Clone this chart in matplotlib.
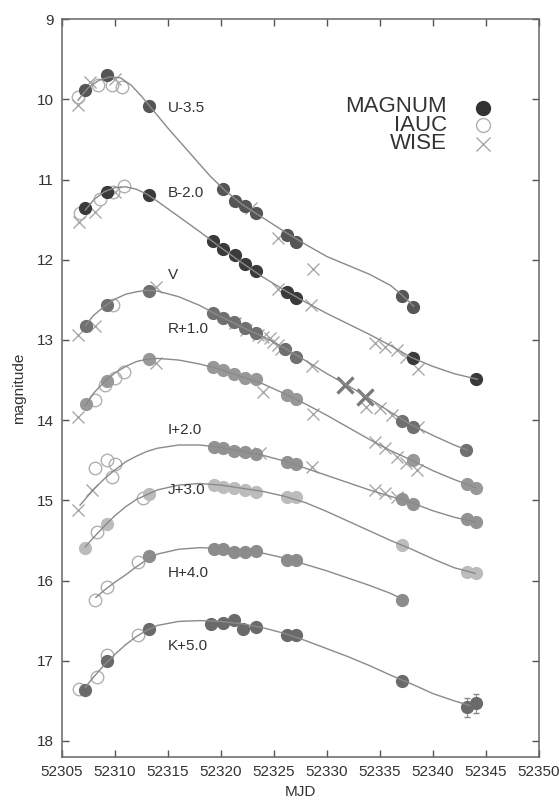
import matplotlib
matplotlib.use("Agg")
import matplotlib.pyplot as plt

plt.rcParams['font.family'] = ['Liberation Sans', 'DejaVu Sans']

# ---------------- data (MJD, magnitude) ----------------
# U-3.5
u_mag_x = [52307.2, 52309.2, 52313.2, 52320.2, 52321.3, 52322.3, 52323.3, 52326.2, 52327.1, 52337.1, 52338.1]
u_mag_y = [9.88, 9.70, 10.08, 11.12, 11.27, 11.33, 11.42, 11.69, 11.78, 12.45, 12.59]
u_iauc_x = [52306.5, 52308.4, 52309.7, 52310.7]
u_iauc_y = [9.97, 9.82, 9.82, 9.85]
u_wise_x = [52306.5, 52307.6, 52310.0, 52322.8, 52325.4, 52328.7]
u_wise_y = [10.07, 9.78, 9.75, 11.36, 11.73, 12.11]
u_fit_x = [52306.5, 52307.5, 52308.5, 52309.5, 52310.5, 52311.5, 52312.5, 52313.5, 52315, 52317, 52319, 52320.5,
           52322, 52324, 52326, 52328, 52330, 52332, 52334, 52336, 52337, 52338.2]
u_fit_y = [10.01, 9.85, 9.76, 9.72, 9.73, 9.82, 9.96, 10.12, 10.36, 10.66, 10.96, 11.15,
           11.31, 11.48, 11.65, 11.81, 11.96, 12.07, 12.18, 12.32, 12.43, 12.58]

# B-2.0
b_mag_x = [52307.2, 52309.2, 52313.2, 52319.2, 52320.2, 52321.3, 52322.3, 52323.3, 52326.2, 52327.1, 52338.1, 52344.1]
b_mag_y = [11.36, 11.15, 11.19, 11.76, 11.86, 11.94, 12.05, 12.14, 12.40, 12.48, 13.23, 13.49]
b_iauc_x = [52306.7, 52308.6, 52309.8, 52310.8]
b_iauc_y = [11.42, 11.24, 11.15, 11.08]
b_wise_x = [52306.6, 52308.1, 52310.0, 52325.4, 52328.5, 52334.5, 52335.5, 52336.6, 52337.5, 52338.6]
b_wise_y = [11.53, 11.40, 11.15, 12.36, 12.57, 13.04, 13.09, 13.12, 13.21, 13.36]
b_fit_x = [52307.2, 52308, 52309, 52310, 52311, 52312, 52313, 52314, 52316, 52318, 52320, 52322, 52324,
           52326, 52328, 52330, 52332, 52334, 52336, 52338, 52340, 52342, 52344.2]
b_fit_y = [11.38, 11.25, 11.15, 11.10, 11.09, 11.12, 11.18, 11.27, 11.46, 11.65, 11.85, 12.04, 12.22,
           12.38, 12.53, 12.67, 12.80, 12.93, 13.07, 13.22, 13.33, 13.42, 13.49]

# V
v_mag_x = [52307.3, 52309.2, 52313.2, 52319.2, 52320.2, 52321.2, 52322.3, 52323.3, 52326.0, 52327.1, 52337.1, 52338.1, 52343.1]
v_mag_y = [12.82, 12.56, 12.39, 12.66, 12.72, 12.77, 12.85, 12.91, 13.11, 13.21, 14.01, 14.08, 14.37]
v_iauc_x = [52309.8]
v_iauc_y = [12.57]
v_wise_x = [52306.5, 52308.1, 52313.9, 52321.3, 52322.4, 52323.5, 52324.0, 52324.6, 52324.9, 52325.4,
            52325.7, 52328.6, 52333.7, 52335.0, 52336.1, 52338.6]
v_wise_y = [12.94, 12.82, 12.34, 12.79, 12.88, 12.94, 12.96, 12.98, 13.02, 13.06,
            13.11, 13.33, 13.83, 13.85, 13.94, 14.08]
v_wise_big_x = [52331.7, 52333.6]
v_wise_big_y = [13.56, 13.71]
v_fit_x = [52307.2, 52308, 52309, 52310, 52311, 52312, 52313, 52314, 52316, 52318, 52320, 52322, 52324,
           52326, 52328, 52330, 52332, 52334, 52336, 52338, 52340, 52342, 52343.2]
v_fit_y = [12.82, 12.69, 12.58, 12.49, 12.43, 12.40, 12.38, 12.39, 12.46, 12.57, 12.71, 12.84, 12.96,
           13.10, 13.26, 13.42, 13.57, 13.73, 13.90, 14.06, 14.19, 14.31, 14.37]

# R+1.0
r_mag_x = [52307.3, 52309.2, 52313.2, 52319.2, 52320.2, 52321.2, 52322.3, 52323.3, 52326.2, 52327.1, 52338.1, 52343.2, 52344.1]
r_mag_y = [13.80, 13.51, 13.24, 13.34, 13.38, 13.43, 13.47, 13.49, 13.69, 13.73, 14.50, 14.80, 14.84]
r_iauc_x = [52308.1, 52309.1, 52310.0, 52310.8]
r_iauc_y = [13.75, 13.56, 13.48, 13.40]
r_wise_x = [52306.5, 52313.9, 52324.0, 52328.7, 52334.5, 52335.5, 52336.6, 52337.5, 52338.5]
r_wise_y = [13.96, 13.29, 13.65, 13.92, 14.27, 14.35, 14.46, 14.54, 14.62]
r_fit_x = [52307.2, 52308, 52309, 52310, 52311, 52312, 52313, 52314, 52316, 52318, 52320, 52322, 52324,
           52326, 52328, 52330, 52332, 52334, 52336, 52338, 52340, 52342, 52344]
r_fit_y = [13.82, 13.66, 13.52, 13.41, 13.33, 13.27, 13.24, 13.23, 13.25, 13.30, 13.37, 13.46, 13.55,
           13.67, 13.80, 13.94, 14.09, 14.24, 14.38, 14.50, 14.63, 14.74, 14.84]

# I+2.0
i_mag_x = [52319.3, 52320.2, 52321.2, 52322.3, 52323.3, 52326.2, 52327.1, 52337.1, 52338.1, 52343.2, 52344.1]
i_mag_y = [14.33, 14.35, 14.38, 14.40, 14.42, 14.52, 14.55, 14.98, 15.04, 15.23, 15.27]
i_iauc_x = [52308.1, 52309.2, 52309.7, 52310.0]
i_iauc_y = [14.60, 14.50, 14.71, 14.55]
i_wise_x = [52306.5, 52307.8, 52323.7, 52328.6, 52334.5, 52335.5, 52336.6]
i_wise_y = [15.12, 14.87, 14.41, 14.58, 14.87, 14.91, 14.96]
i_fit_x = [52306.7, 52308, 52309, 52310, 52311, 52312, 52313, 52314, 52316, 52318, 52320, 52322, 52324,
           52326, 52328, 52330, 52332, 52334, 52336, 52338, 52340, 52342, 52344]
i_fit_y = [15.06, 14.86, 14.73, 14.62, 14.52, 14.45, 14.39, 14.35, 14.31, 14.31, 14.34, 14.39, 14.44,
           14.51, 14.60, 14.69, 14.78, 14.87, 14.95, 15.03, 15.13, 15.21, 15.27]

# J+3.0
j_mag_x = [52307.2, 52309.2, 52313.2, 52319.3, 52320.2, 52321.2, 52322.3, 52323.3, 52326.2, 52327.1, 52337.1, 52343.2, 52344.1]
j_mag_y = [15.60, 15.29, 14.92, 14.81, 14.83, 14.84, 14.87, 14.89, 14.96, 14.96, 15.56, 15.89, 15.91]
j_iauc_x = [52308.3, 52312.6]
j_iauc_y = [15.40, 14.97]
j_fit_x = [52307.2, 52308, 52309, 52310, 52311, 52312, 52313, 52314, 52316, 52318, 52320, 52322, 52324,
           52326, 52328, 52330, 52332, 52334, 52336, 52338, 52340, 52342, 52344]
j_fit_y = [15.58, 15.46, 15.32, 15.19, 15.08, 14.99, 14.93, 14.87, 14.81, 14.79, 14.81, 14.85, 14.89,
           14.95, 15.03, 15.14, 15.26, 15.38, 15.50, 15.61, 15.73, 15.84, 15.91]

# H+4.0
h_mag_x = [52313.2, 52319.3, 52320.2, 52321.2, 52322.3, 52323.3, 52326.2, 52327.1, 52337.1]
h_mag_y = [15.70, 15.61, 15.61, 15.64, 15.64, 15.63, 15.75, 15.75, 16.24]
h_iauc_x = [52308.1, 52309.2, 52312.2]
h_iauc_y = [16.24, 16.08, 15.77]
h_fit_x = [52308.2, 52309, 52310, 52311, 52312, 52313, 52314, 52316, 52318, 52320, 52322, 52324,
           52326, 52328, 52330, 52332, 52334, 52336, 52337.1]
h_fit_y = [16.21, 16.12, 16.02, 15.93, 15.83, 15.74, 15.67, 15.61, 15.59, 15.60, 15.62, 15.66,
           15.72, 15.80, 15.88, 15.97, 16.06, 16.16, 16.23]

# K+5.0
k_mag_x = [52307.2, 52309.2, 52313.2, 52319.1, 52320.2, 52321.2, 52322.1, 52323.3, 52326.2, 52327.1, 52337.1, 52343.2, 52344.1]
k_mag_y = [17.37, 17.00, 16.61, 16.54, 16.53, 16.49, 16.60, 16.58, 16.68, 16.68, 17.25, 17.58, 17.53]
k_mag_err = [0, 0, 0, 0, 0, 0, 0, 0, 0, 0, 0.05, 0.12, 0.12]
k_iauc_x = [52306.6, 52308.3, 52309.2, 52312.2]
k_iauc_y = [17.35, 17.20, 16.93, 16.68]
k_fit_x = [52307.2, 52308, 52309, 52310, 52311, 52312, 52313, 52314, 52316, 52318, 52320, 52322, 52324,
           52326, 52328, 52330, 52332, 52334, 52336, 52338, 52340, 52342, 52343.5]
k_fit_y = [17.33, 17.20, 17.05, 16.92, 16.80, 16.70, 16.62, 16.56, 16.51, 16.50, 16.51, 16.54, 16.59,
           16.66, 16.75, 16.85, 16.95, 17.06, 17.18, 17.29, 17.41, 17.50, 17.56]

band_labels = ["U-3.5", "B-2.0", "V", "R+1.0", "I+2.0", "J+3.0", "H+4.0", "K+5.0"]
label_y = [10.11, 11.17, 12.19, 12.86, 14.12, 14.87, 15.91, 16.82]
label_x = 52315.0

legend_names = ["MAGNUM", "IAUC", "WISE"]

# ---------------- plotting ----------------
fig = plt.figure(figsize=(5.59, 8.01), dpi=100)
ax = fig.add_axes([0.111, 0.055, 0.853, 0.921])

line_c = '#8a8a8a'
iauc_c = '#b0b0b0'
wise_c = '#a8a8a8'

bands = [
    (u_fit_x, u_fit_y, u_mag_x, u_mag_y, '#555555', u_iauc_x, u_iauc_y, u_wise_x, u_wise_y),
    (b_fit_x, b_fit_y, b_mag_x, b_mag_y, '#3a3a3a', b_iauc_x, b_iauc_y, b_wise_x, b_wise_y),
    (v_fit_x, v_fit_y, v_mag_x, v_mag_y, '#707070', v_iauc_x, v_iauc_y, v_wise_x, v_wise_y),
    (r_fit_x, r_fit_y, r_mag_x, r_mag_y, '#989898', r_iauc_x, r_iauc_y, r_wise_x, r_wise_y),
    (i_fit_x, i_fit_y, i_mag_x, i_mag_y, '#929292', i_iauc_x, i_iauc_y, i_wise_x, i_wise_y),
    (j_fit_x, j_fit_y, j_mag_x, j_mag_y, '#bcbcbc', j_iauc_x, j_iauc_y, [], []),
    (h_fit_x, h_fit_y, h_mag_x, h_mag_y, '#8c8c8c', h_iauc_x, h_iauc_y, [], []),
    (k_fit_x, k_fit_y, k_mag_x, k_mag_y, '#6a6a6a', k_iauc_x, k_iauc_y, [], []),
]

for fx, fy, mx, my, mc, ix, iy, wx, wy in bands:
    ax.plot(ix, iy, 'o', ms=9, mfc='none', mec=iauc_c, mew=1.0, zorder=2)
    ax.plot(wx, wy, 'x', ms=9, color=wise_c, mew=1.0, zorder=2)
    ax.plot(mx, my, 'o', ms=8.5, color=mc, mec=mc, zorder=3)
    ax.plot(fx, fy, '-', color=line_c, lw=1.0, zorder=4)

ax.plot(v_wise_big_x, v_wise_big_y, 'x', ms=12, color='#7a7a7a', mew=2.4, zorder=3)
ax.errorbar(k_mag_x, k_mag_y, yerr=k_mag_err, fmt='none', ecolor='#888888', elinewidth=0.8,
            capsize=2, zorder=2)

for lab, ly in zip(band_labels, label_y):
    ax.text(label_x, ly, lab, fontsize=11, color='#333333', ha='left', va='center', zorder=5)

# legend built from one multi-line text and markers
leg_y = [10.11, 10.32, 10.55]
ax.text(52341.3, leg_y[1], "\n".join(legend_names), fontsize=16, color='#333333',
        ha='right', va='center', multialignment='right', linespacing=0.82)
ax.plot([52344.75], [leg_y[0]], 'o', ms=10, color='#333333')
ax.plot([52344.75], [leg_y[1]], 'o', ms=10, mfc='none', mec=iauc_c, mew=1.0)
ax.plot([52344.75], [leg_y[2]], 'x', ms=10, color=wise_c, mew=1.0)

ax.set_xlim(52305, 52350)
ax.set_ylim(18.2, 9)
ax.set_xticks(range(52305, 52351, 5))
ax.set_yticks(range(9, 19))
ax.tick_params(direction='in', top=True, right=True, length=5, width=1, color='#555555',
               labelsize=11, labelcolor='#333333', pad=6)
for s in ax.spines.values():
    s.set_color('#666666')
    s.set_linewidth(1.1)
ax.set_xlabel('MJD', fontsize=11, color='#333333', labelpad=4)
ax.set_ylabel('magnitude', fontsize=11, color='#333333', labelpad=8)

fig.savefig('out.png', dpi=100)
